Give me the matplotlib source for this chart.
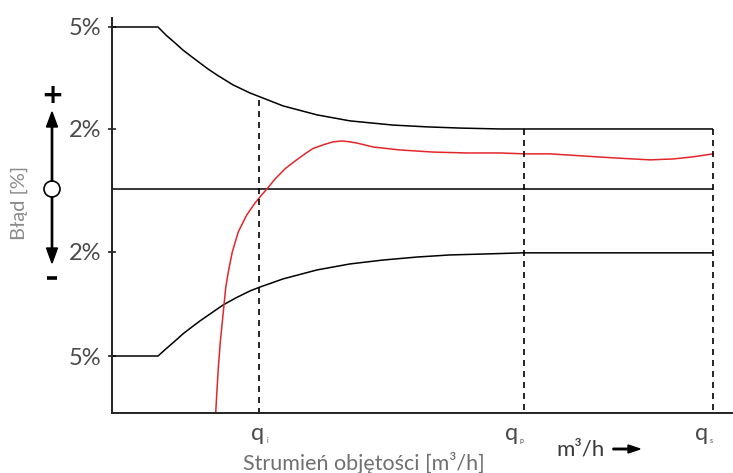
import numpy as np
import matplotlib.pyplot as plt
from matplotlib.patches import Circle, FancyArrow

plt.rcParams['font.family'] = ['Lato', 'DejaVu Sans']

# --- dane (schemat) ---
upper_x = [0.00, 0.46, 0.54, 0.63, 0.71, 0.80, 0.88, 0.96, 1.05, 1.21, 1.38,
           1.48, 1.71, 2.05, 2.38, 2.81, 3.15, 3.48, 3.88, 6.01]
upper_y = [5.40, 5.40, 5.13, 4.87, 4.63, 4.40, 4.20, 4.00, 3.80, 3.47, 3.20,
           3.07, 2.77, 2.47, 2.27, 2.13, 2.07, 2.03, 2.00, 2.00]

lower_x = [0.00, 0.46, 0.54, 0.63, 0.71, 0.80, 0.88, 0.98, 1.11, 1.24, 1.38,
           1.48, 1.71, 2.05, 2.38, 2.71, 3.05, 3.38, 3.71, 4.11, 6.01]
lower_y = [-5.57, -5.57, -5.33, -5.07, -4.83, -4.60, -4.40, -4.17, -3.87, -3.63,
           -3.40, -3.27, -3.00, -2.70, -2.50, -2.37, -2.27, -2.20, -2.17, -2.13,
           -2.13]

meter_x = [1.037, 1.047, 1.063, 1.083, 1.113, 1.137, 1.163, 1.203, 1.263, 1.347,
           1.430, 1.497, 1.557, 1.630, 1.730, 1.830, 1.930, 2.010, 2.120, 2.210,
           2.300, 2.380, 2.450, 2.610, 2.880, 3.210, 3.550, 3.880, 4.130, 4.380,
           4.710, 5.050, 5.380, 5.610, 5.810, 6.010]
meter_y = [-7.47, -6.87, -5.97, -5.10, -4.10, -3.30, -2.77, -2.10, -1.43, -0.87,
           -0.47, -0.20, 0.03, 0.33, 0.67, 0.93, 1.17, 1.35, 1.48, 1.57,
           1.60, 1.57, 1.53, 1.40, 1.30, 1.23, 1.20, 1.20, 1.17, 1.17,
           1.10, 1.03, 0.97, 1.00, 1.07, 1.17]

q_pos = [1.47, 4.12, 6.01]
q_top = [2.97, 2.00, 2.00]
q_sub = ['i', 'p', 's']

tick_pos = [5.40, 2.00, -2.10, -5.57]
tick_lab = ['5%', '2%', '2%', '5%']

W, H = 733, 473
fig = plt.figure(figsize=(W / 100, H / 100), dpi=100)

# warstwa pomocnicza w pikselach (strzałki +/-)
ov = fig.add_axes([0, 0, 1, 1], zorder=0)
ov.set_xlim(0, W)
ov.set_ylim(H, 0)
ov.axis('off')

ax = fig.add_axes([112 / W, 60 / H, 621 / W, 395 / H], zorder=1)
ax.set_facecolor('none')
ax.set_xlim(0, 6.21)
ax.set_ylim(-7.47, 5.70)

lw = 1.1
style = dict(color='black', lw=lw, solid_capstyle='butt', solid_joinstyle='round')
ax.plot(upper_x, upper_y, **style)
ax.plot(lower_x, lower_y, **style)
ax.plot([0, q_pos[-1]], [0, 0], **style)
ax.plot(meter_x, meter_y, color='#e3262b', lw=1.1, solid_joinstyle='round')

for xq, yt in zip(q_pos, q_top):
    ax.plot([xq, xq], [yt, -7.47], color='black', lw=1.2,
            dashes=(3.6, 3.0), clip_on=False)

# osie
for s in ['top', 'right']:
    ax.spines[s].set_visible(False)
for s in ['left', 'bottom']:
    ax.spines[s].set_linewidth(1.4)
    ax.spines[s].set_color('#222222')

ax.set_yticks(tick_pos)
ax.set_yticklabels(tick_lab)
ax.tick_params(axis='y', direction='inout', length=6, width=1.2,
               pad=5, labelsize=17, labelcolor='#4a4a4a', color='#222222')
ax.set_xticks([])

# etykiety q
q_dx = [-1, -12, -11]
for xq, sub, dx in zip(q_pos, q_sub, q_dx):
    ax.annotate('q', xy=(xq, 0), xycoords=('data', 'axes fraction'),
                xytext=(dx, -27), textcoords='offset pixels',
                ha='center', va='baseline', fontsize=17, color='#4a4a4a')
    ax.annotate(sub, xy=(xq, 0), xycoords=('data', 'axes fraction'),
                xytext=(dx + 9, -30), textcoords='offset pixels',
                ha='center', va='baseline', fontsize=5, color='#4a4a4a')

fig.text(364 / W, 1 - 470 / H, 'Strumień objętości [m³/h]', ha='center',
         va='baseline', fontsize=15.5, color='#707070')
fig.text(581 / W, 1 - 455 / H, 'm³/h', ha='center', va='baseline',
         fontsize=16, color='#3a3a3a')
ov.add_patch(FancyArrow(613, 449, 27, 0, width=1.5, head_width=8,
                        head_length=12, length_includes_head=True,
                        color='black'))

fig.text(19 / W, 1 - 203 / H, 'Błąd [%]', rotation=90, ha='center',
         va='center', fontsize=14.5, color='#8a8a8a')

# symbol +/-
ov.add_patch(Circle((52, 189), 8, facecolor='white', edgecolor='black', lw=1.2))
ov.add_patch(FancyArrow(52, 181, 0, -69, width=1.3, head_width=11,
                        head_length=15, length_includes_head=True, color='black'))
ov.add_patch(FancyArrow(52, 197, 0, 66, width=1.3, head_width=11,
                        head_length=15, length_includes_head=True, color='black'))
ov.text(52, 96, '+', ha='center', va='center', fontsize=19,
        fontweight='bold', color='black', family='DejaVu Sans')
ov.plot([47, 57], [278, 278], color='black', lw=2.6, solid_capstyle='butt')

fig.savefig('out.png', dpi=100)
